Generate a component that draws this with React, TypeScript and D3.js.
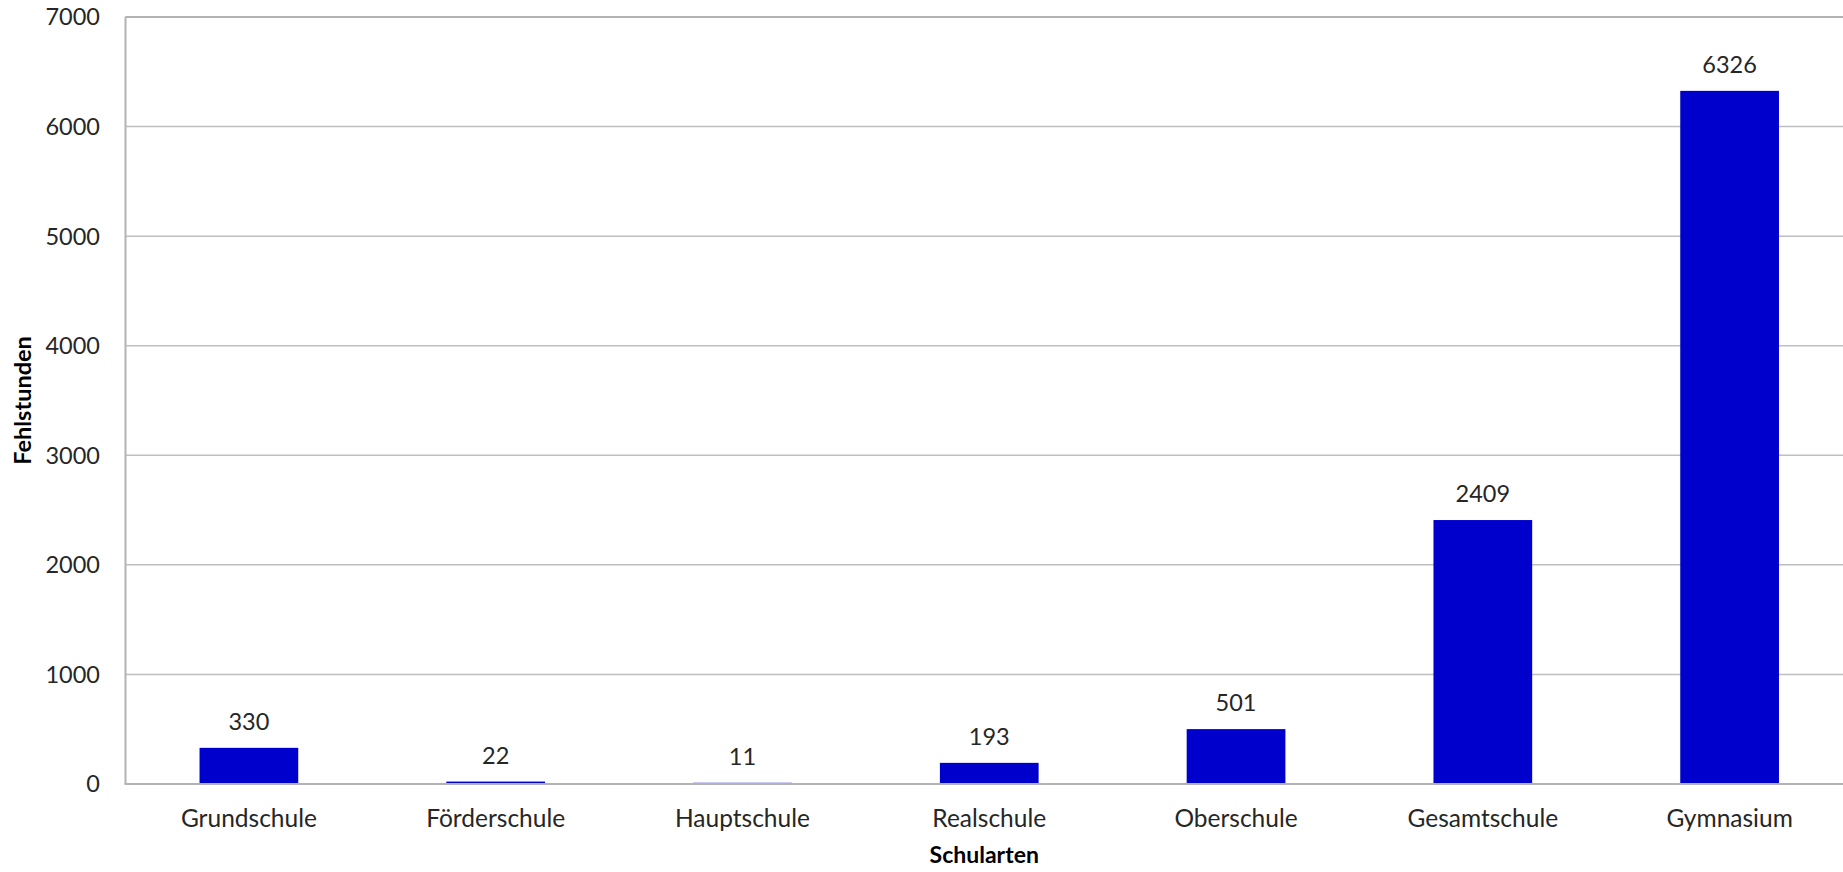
import React from "react";
import * as d3 from "d3";

const categories = ["Grundschule", "Förderschule", "Hauptschule", "Realschule", "Oberschule", "Gesamtschule", "Gymnasium"];
const values = [330, 22, 11, 193, 501, 2409, 6326];
const yTicks = [0, 1000, 2000, 3000, 4000, 5000, 6000, 7000];
const yTitle = "Fehlstunden";
const xTitle = "Schularten";

const W = 1843;
const H = 872;
const left = 125.5;
const right = 1853;
const top = 17;
const bottom = 784;
const FONT = "Lato, 'Open Sans', sans-serif";
const TEXT = "#262626";

export default function App() {
  const x = d3.scaleBand<string>().domain(categories).range([left, right]).paddingInner(0.6).paddingOuter(0.3);
  const y = d3.scaleLinear().domain([0, 7000]).range([bottom, top]);
  return (
    <svg width={W} height={H} style={{ position: "absolute", left: 0, top: 0, background: "#fff" }}>
      {yTicks.map((t) => (
        <g key={t}>
          {t > 0 && <line x1={left} x2={right} y1={y(t)} y2={y(t)} stroke="#bfbfbf" strokeWidth={1.5} />}
          <text x={100} y={y(t)} dy="0.36em" textAnchor="end" fontFamily={FONT} fontSize={23.5} fill={TEXT}>
            {t}
          </text>
        </g>
      ))}
      {categories.map((c, i) => {
        const v = values[i];
        const bx = x(c)!;
        const cx = bx + x.bandwidth() / 2;
        return (
          <g key={c}>
            <rect x={bx} y={y(v)} width={x.bandwidth()} height={bottom - y(v)} fill="#0000CC" />
            <text x={cx} y={y(v) - 18} textAnchor="middle" fontFamily={FONT} fontSize={23.5} fill={TEXT}>
              {v}
            </text>
            <text x={cx} y={827} textAnchor="middle" fontFamily={FONT} fontSize={24.5} fill={TEXT}>
              {c}
            </text>
          </g>
        );
      })}
      <line x1={left} x2={left} y1={top} y2={bottom} stroke="#b3b3b3" strokeWidth={2} />
      <line x1={left} x2={right} y1={top} y2={top} stroke="#b3b3b3" strokeWidth={2} />
      <line x1={left - 1} x2={right} y1={bottom} y2={bottom} stroke="#b3b3b3" strokeWidth={2} />
      <text x={(left + right - 10) / 2} y={863} textAnchor="middle" fontFamily={FONT} fontSize={23} fontWeight="bold" fill="#000">
        {xTitle}
      </text>
      <text transform={`translate(31,${(top + bottom) / 2}) rotate(-90)`} textAnchor="middle" fontFamily={FONT} fontSize={23.5} fontWeight="bold" fill="#000">
        {yTitle}
      </text>
    </svg>
  );
}
